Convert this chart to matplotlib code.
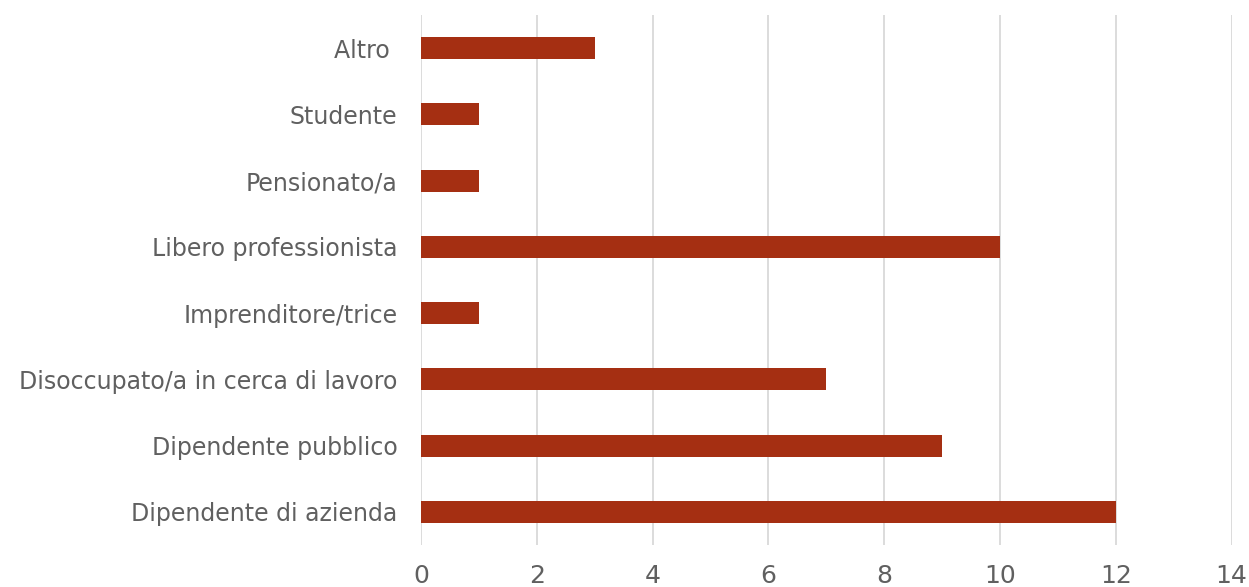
import numpy as np
import matplotlib
matplotlib.use("Agg")
import matplotlib.pyplot as plt

plt.rcParams['font.family'] = ['DejaVu Sans']

categories = ['Dipendente di azienda', 'Dipendente pubblico',
              'Disoccupato/a in cerca di lavoro', 'Imprenditore/trice',
              'Libero professionista', 'Pensionato/a', 'Studente', 'Altro ']
values = [12, 9, 7, 1, 10, 1, 1, 3]
xticks = [0, 2, 4, 6, 8, 10, 12, 14]

fig = plt.figure(figsize=(12.49, 5.87), dpi=100)
ax = fig.add_axes([0.337, 0.0716, 0.649, 0.9029])

y = np.arange(len(categories))
ax.barh(y, values, height=0.33, color='#A52F12', zorder=3)

ax.set_xlim(0, 14)
ax.set_ylim(-0.5, len(categories) - 0.5)
ax.set_xticks(xticks)
ax.set_yticks(y)
ax.set_yticklabels(categories)

ax.grid(axis='x', color='#D9D9D9', linewidth=1.3, zorder=0)
for s in ax.spines.values():
    s.set_visible(False)
ax.tick_params(axis='both', length=0, colors='#606060')
ax.tick_params(axis='x', labelsize=18, pad=14)
ax.tick_params(axis='y', labelsize=17, pad=17)

fig.savefig('out.png', dpi=100, facecolor='white')
